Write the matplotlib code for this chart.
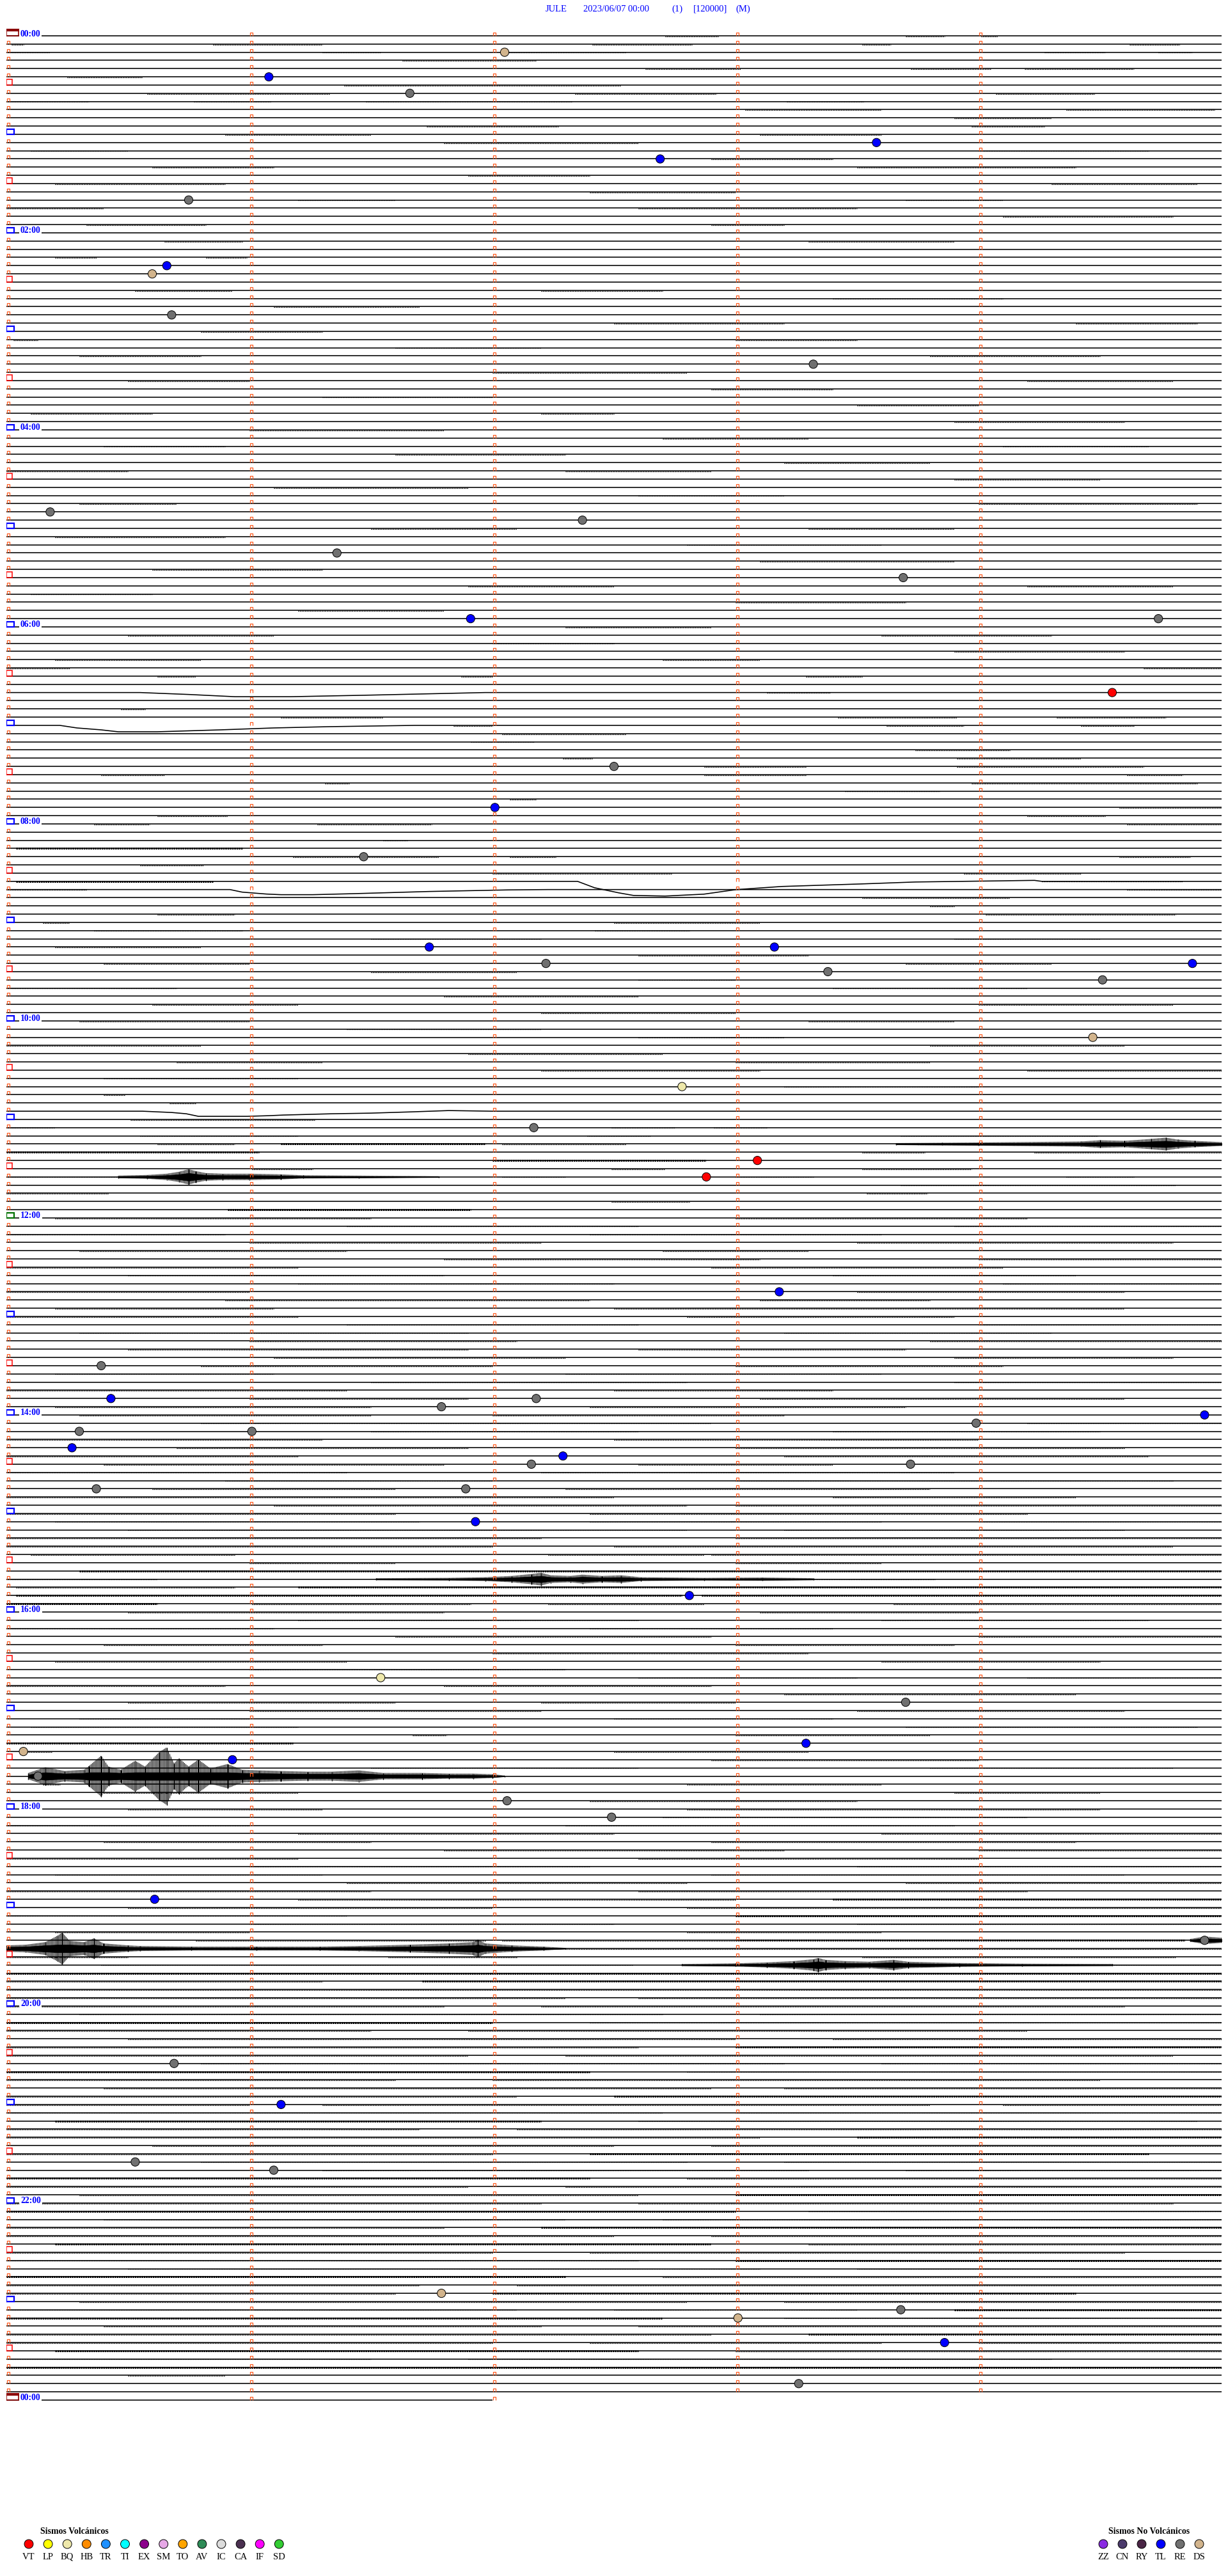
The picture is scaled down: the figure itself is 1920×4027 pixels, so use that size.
import matplotlib.pyplot as plt
from matplotlib.collections import LineCollection

plt.rcParams['font.family'] = ['Liberation Serif', 'DejaVu Serif']
plt.rcParams['hatch.linewidth'] = 0.8

W, H = 1920, 4027
X_LEFT, X_RIGHT = 10, 1910      # pixel span of one 5 minute line
Y_TOP, PX_LINE = 56, 12.833     # pixel row of 00:00, pixels between lines

# ---------------- data ----------------
station = "JULE"
date_label = "2023/06/07 00:00"
header_tags = ["(1)", "[120000]", "(M)"]
n_lines = 288                   # 24 h of 5 minute lines
minutes_per_line = 5
last_line_minutes = 2.0
hour_labels = ["00:00", "02:00", "04:00", "06:00", "08:00", "10:00", "12:00",
               "14:00", "16:00", "18:00", "20:00", "22:00", "00:00"]

volc_codes = ["VT", "LP", "BQ", "HB", "TR", "TI", "EX", "SM", "TO", "AV", "IC", "CA", "IF", "SD"]
volc_colors = ["#FF0000", "#FFFF00", "#EEE8AA", "#FF8C00", "#1E90FF", "#00FFFF", "#8B008B",
               "#E6A8E6", "#FFA500", "#2E8B57", "#DCDCDC", "#4A3050", "#FF00FF", "#33CC33"]
novolc_codes = ["ZZ", "CN", "RY", "TL", "RE", "DS"]
novolc_colors = ["#8A2BE2", "#4B3A6B", "#4A2545", "#0000FF", "#707070", "#D2B48C"]

# events: (line index, minute within line, type)
events = [
    (2, 2.05, "DS"), (5, 1.08, "TL"), (7, 1.66, "RE"), (13, 3.58, "TL"), (15, 2.69, "TL"),
    (20, 0.75, "RE"), (28, 0.66, "TL"), (29, 0.60, "DS"), (34, 0.68, "RE"), (40, 3.32, "RE"),
    (58, 0.18, "RE"), (59, 2.37, "RE"), (63, 1.36, "RE"), (66, 3.69, "RE"), (71, 1.91, "TL"),
    (71, 4.74, "RE"), (80, 4.55, "VT"), (89, 2.50, "RE"), (94, 2.01, "TL"), (100, 1.47, "RE"),
    (111, 1.74, "TL"), (111, 3.16, "TL"), (113, 2.22, "RE"), (113, 4.88, "TL"), (114, 3.38, "RE"),
    (115, 4.51, "RE"), (122, 4.47, "DS"), (128, 2.78, "BQ"), (133, 2.17, "RE"), (137, 3.09, "VT"),
    (139, 2.88, "VT"), (153, 3.18, "TL"), (162, 0.39, "RE"), (166, 0.43, "TL"), (166, 2.18, "RE"),
    (167, 1.79, "RE"), (168, 4.93, "TL"), (169, 3.99, "RE"), (170, 0.30, "RE"), (170, 1.01, "RE"),
    (172, 0.27, "TL"), (173, 2.29, "TL"), (174, 2.16, "RE"), (174, 3.72, "RE"), (177, 0.37, "RE"),
    (177, 1.89, "RE"), (181, 1.93, "TL"), (190, 2.81, "TL"), (200, 1.54, "BQ"), (203, 3.70, "RE"),
    (208, 3.29, "TL"), (209, 0.07, "DS"), (210, 0.93, "TL"), (212, 0.13, "RE"), (215, 2.06, "RE"),
    (217, 2.49, "RE"), (227, 0.61, "TL"), (232, 4.93, "RE"), (247, 0.69, "RE"), (252, 1.13, "TL"),
    (259, 0.53, "RE"), (260, 1.10, "RE"), (275, 1.79, "DS"), (277, 3.68, "RE"), (278, 3.01, "DS"),
    (281, 3.86, "TL"), (286, 3.26, "RE"),
]

# slow baseline drifts: (line, [(minute, offset px, +down)])
drifts = [
    (80, [(0.55, 0), (0.75, 3), (0.94, 6.5), (1.17, 6.5), (1.5, 4), (1.97, 0)]),
    (84, [(0.22, 0), (0.29, 4), (0.39, 7), (0.46, 10), (0.62, 10), (0.88, 7), (1.10, 4), (1.33, 2), (1.68, 0)]),
    (103, [(2.35, 0), (2.42, 10), (2.52, 18), (2.58, 22), (2.71, 23), (2.87, 20), (3.00, 13),
           (3.19, 8), (3.52, 4), (3.74, 1), (4.23, -1.5), (4.26, 0)]),
    (104, [(0.92, 0), (0.97, 4), (1.07, 7), (1.13, 8), (1.26, 8), (1.42, 6.5), (1.74, 3), (2.07, 0.5), (2.23, 0)]),
    (131, [(0.56, 0), (0.68, 2), (0.74, 4), (0.79, 8), (0.99, 8), (1.08, 7), (1.14, 6), (1.34, 4),
           (1.50, 3), (1.67, 1), (1.82, -1), (2.0, 0)]),
]

# seismic bursts: (line, [(minute, half amplitude px)])
bursts = [
    (135, [(3.66, 1.5), (3.85, 2), (4.0, 2.5), (4.42, 4), (4.50, 6), (4.60, 5), (4.71, 8), (4.77, 10),
           (4.82, 7), (4.89, 5), (5.0, 3)]),
    (139, [(0.46, 2), (0.58, 3), (0.66, 5), (0.71, 8), (0.75, 12), (0.78, 9), (0.82, 6), (0.89, 5),
           (1.0, 5), (1.13, 4), (1.22, 2.5), (1.45, 2), (1.78, 1)]),
    (188, [(1.52, 1.5), (1.82, 2), (1.97, 3), (2.08, 5), (2.16, 8), (2.20, 10), (2.24, 6), (2.32, 5),
           (2.37, 7), (2.45, 5), (2.53, 6), (2.61, 3), (2.87, 2), (3.11, 2.5), (3.32, 1.5)]),
    (212, [(0.09, 5), (0.16, 14), (0.24, 8), (0.32, 10), (0.34, 16), (0.39, 32), (0.42, 15), (0.47, 10),
           (0.53, 24), (0.57, 15), (0.63, 38), (0.66, 45), (0.69, 20), (0.71, 28), (0.75, 15), (0.79, 26),
           (0.84, 12), (0.91, 19), (0.97, 10), (1.04, 9), (1.13, 8), (1.24, 7), (1.34, 7), (1.45, 9),
           (1.55, 5), (1.71, 5), (1.82, 4), (1.92, 4), (2.0, 3), (2.05, 1)]),
    (232, [(4.87, 2), (4.93, 6), (5.0, 4)]),
    (233, [(0.0, 5), (0.08, 6), (0.16, 10), (0.21, 20), (0.23, 25), (0.26, 12), (0.32, 10), (0.36, 16),
           (0.40, 8), (0.50, 5), (0.55, 4), (0.76, 3), (1.03, 3), (1.29, 3), (1.45, 4), (1.66, 6),
           (1.82, 8), (1.92, 10), (1.94, 14), (1.97, 8), (2.08, 5), (2.21, 3), (2.30, 1)]),
    (235, [(2.78, 1.5), (3.0, 2.5), (3.13, 4), (3.24, 6), (3.32, 9), (3.34, 11), (3.37, 8), (3.45, 6),
           (3.55, 5), (3.65, 8), (3.71, 5), (3.92, 3), (4.18, 2), (4.55, 1.5)]),
]

# background noise: (line, start minute, end minute, level)
noise = [
    (0, 2.71, 2.93, 1), (0, 3.70, 3.86, 1), (0, 4.01, 4.08, 1),
    (1, 0.02, 0.07, 1), (1, 0.85, 1.30, 1), (1, 2.41, 2.82, 1), (1, 3.52, 3.64, 1), (1, 4.62, 4.83, 1),
    (2, 0.0, 0.18, 1), (2, 1.30, 1.54, 1), (2, 2.04, 2.55, 1), (2, 4.27, 4.52, 1), (2, 4.74, 4.88, 1),
    (3, 1.63, 2.18, 1), (4, 2.63, 3.02, 1), (4, 3.72, 4.05, 1), (4, 4.19, 4.64, 1), (5, 0.25, 0.56, 1),
    (6, 1.39, 2.53, 1), (7, 0.58, 1.33, 1), (7, 2.34, 2.92, 1), (7, 4.07, 4.48, 1),
    (8, 0.0, 0.34, 1), (8, 0.77, 1.09, 1), (8, 1.48, 2.33, 1), (8, 3.21, 3.53, 1),
    (9, 3.04, 3.60, 1), (9, 4.36, 4.97, 1), (10, 3.9, 4.3, 1), (11, 1.73, 2.27, 1), (11, 3.97, 4.27, 1),
    (12, 0.9, 1.5, 1), (12, 3.1, 3.6, 1), (13, 1.8, 2.6, 1), (14, 0.1, 0.5, 1), (14, 4.0, 4.7, 1),
    (15, 2.9, 3.4, 1), (16, 0.6, 1.1, 1), (16, 3.5, 4.4, 1), (17, 1.9, 2.4, 1), (18, 0.2, 0.9, 1),
    (18, 4.3, 4.9, 1), (19, 2.4, 3.0, 1), (20, 1.2, 1.6, 1), (20, 3.7, 4.1, 1), (21, 0.0, 0.4, 1),
    (21, 2.6, 3.5, 1), (22, 4.1, 4.8, 1), (23, 0.33, 0.82, 1), (23, 2.9, 3.2, 1), (25, 0.65, 0.97, 1),
    (25, 3.3, 3.9, 1), (27, 0.2, 0.37, 1), (27, 0.82, 0.99, 1), (31, 0.53, 0.93, 1), (31, 2.2, 2.7, 1),
    (32, 3.4, 4.1, 1), (33, 1.1, 1.7, 1), (35, 2.5, 3.2, 1), (35, 4.4, 4.9, 1), (36, 0.8, 1.3, 1),
    (37, 0.03, 0.13, 1), (37, 3.0, 3.5, 1), (38, 1.6, 2.2, 1), (39, 0.3, 0.8, 1), (39, 3.8, 4.5, 1),
    (41, 2.0, 2.8, 1), (42, 0.5, 1.0, 1), (42, 4.2, 4.8, 1), (43, 2.9, 3.4, 1), (44, 1.3, 2.0, 1),
    (45, 3.5, 4.0, 1), (46, 0.1, 0.6, 1), (46, 2.2, 2.5, 1), (47, 3.9, 4.6, 1), (48, 1.0, 1.8, 1),
    (49, 2.7, 3.3, 1), (50, 0.4, 0.9, 1), (50, 4.1, 4.7, 1), (51, 1.6, 2.3, 1), (52, 3.2, 3.8, 1),
    (53, 0.0, 0.5, 1), (53, 2.3, 2.9, 1), (54, 3.9, 4.5, 1), (55, 1.1, 1.9, 1), (56, 2.6, 3.2, 1),
    (57, 0.3, 0.7, 1), (57, 4.0, 4.9, 1), (60, 1.5, 2.1, 1), (60, 3.3, 3.9, 1), (61, 0.2, 0.9, 1),
    (62, 2.8, 3.6, 1), (64, 3.1, 3.9, 1), (65, 0.6, 1.3, 1), (67, 1.9, 2.5, 1), (67, 4.2, 4.8, 1),
    (68, 0.1, 0.6, 1), (69, 3.0, 3.7, 1), (70, 1.2, 1.8, 1), (72, 2.3, 2.9, 1), (73, 0.5, 1.1, 1),
    (73, 3.6, 4.3, 1), (74, 2.0, 2.5, 1), (75, 3.9, 4.6, 1), (76, 0.2, 0.8, 1), (76, 2.7, 3.1, 1),
    (77, 0.0, 0.26, 1), (77, 4.68, 5.0, 1), (78, 0.62, 0.78, 1), (78, 1.87, 2.0, 1), (78, 3.29, 3.52, 1),
    (80, 3.13, 3.39, 1), (82, 0.47, 0.57, 1), (83, 1.13, 1.55, 1), (83, 3.42, 3.91, 1), (83, 4.32, 4.77, 1),
    (84, 1.84, 2.0, 1), (84, 3.62, 3.94, 1), (84, 4.42, 4.64, 1), (85, 2.04, 2.55, 1), (86, 1.91, 2.17, 1),
    (87, 3.74, 4.13, 1), (88, 2.29, 2.41, 1), (88, 3.91, 4.42, 1), (89, 2.87, 3.29, 1), (89, 3.91, 4.68, 1),
    (90, 0.39, 0.65, 1), (90, 2.87, 3.29, 1), (90, 4.61, 4.84, 1), (91, 1.31, 1.41, 1), (91, 3.97, 4.90, 1),
    (92, 3.45, 3.84, 1), (93, 2.07, 2.18, 1), (94, 4.58, 5.0, 1), (95, 0.62, 0.91, 1), (95, 4.20, 4.52, 1),
    (96, 0.36, 0.59, 1), (96, 1.28, 1.75, 1), (96, 4.61, 5.0, 1), (98, 1.55, 1.65, 1), (99, 0.04, 0.97, 2),
    (100, 1.18, 1.78, 1), (100, 2.07, 2.26, 1), (100, 4.58, 4.87, 1), (101, 0.55, 0.81, 1),
    (102, 2.00, 2.74, 1), (102, 3.94, 4.42, 1), (103, 0.04, 0.85, 2), (103, 4.26, 4.84, 1),
    (104, 0.0, 0.33, 1), (104, 4.61, 5.0, 1), (105, 3.52, 4.13, 1), (106, 3.8, 3.9, 1),
    (107, 0.62, 0.94, 1), (107, 4.03, 4.81, 1), (108, 0.15, 0.26, 1), (108, 2.5, 3.1, 1),
    (109, 0.36, 0.97, 1), (109, 2.42, 2.81, 1), (110, 1.5, 2.2, 1), (110, 3.9, 4.5, 1), (111, 0.2, 0.8, 1),
    (112, 2.6, 3.3, 1), (113, 0.4, 1.0, 1), (113, 3.7, 4.3, 1), (114, 1.5, 2.1, 1), (115, 2.6, 3.0, 1),
    (116, 0.0, 0.7, 1), (116, 3.4, 4.2, 1), (117, 1.8, 2.6, 1), (118, 0.6, 1.2, 1), (118, 4.0, 4.8, 1),
    (119, 2.2, 3.0, 1), (120, 0.3, 1.0, 1), (120, 3.3, 3.9, 1), (121, 1.4, 2.2, 1), (122, 2.6, 3.2, 1),
    (123, 0.0, 0.8, 1), (123, 3.8, 4.6, 1), (124, 1.9, 2.7, 1), (125, 0.7, 1.3, 1), (125, 3.0, 3.8, 1),
    (126, 2.2, 3.1, 1), (126, 4.2, 5.0, 1), (127, 0.4, 1.2, 1), (128, 3.2, 4.0, 1),
    (129, 0.40, 0.49, 1), (130, 0.67, 0.78, 1), (132, 0.51, 1.27, 1), (133, 0.0, 0.20, 1),
    (133, 2.49, 2.75, 1), (133, 2.91, 3.13, 1), (134, 0.55, 1.20, 1), (134, 2.39, 2.65, 1),
    (134, 3.68, 4.49, 1), (135, 0.62, 0.94, 1), (135, 1.13, 1.97, 2), (135, 2.04, 2.55, 1),
    (135, 3.75, 4.0, 1), (136, 0.0, 1.04, 2), (136, 3.52, 3.78, 1), (136, 4.23, 5.0, 1),
    (137, 2.0, 2.88, 2), (138, 1.01, 1.26, 1), (138, 2.49, 2.71, 1), (138, 3.52, 3.97, 1),
    (139, 0.0, 0.46, 1), (139, 2.04, 2.30, 1), (139, 3.0, 3.32, 1), (139, 4.36, 4.64, 1), (140, 3.68, 4.81, 1),
    (141, 0.0, 0.42, 1), (141, 3.54, 3.79, 1), (142, 2.49, 2.81, 1), (143, 0.91, 1.91, 2),
    (144, 0.2, 1.5, 1), (144, 3.0, 4.2, 1), (145, 1.4, 2.6, 1), (145, 3.9, 5.0, 1), (146, 0.0, 0.9, 1),
    (146, 2.4, 3.6, 1), (147, 1.0, 2.2, 1), (147, 3.5, 4.8, 1), (148, 0.3, 1.4, 1), (148, 2.7, 3.3, 1),
    (149, 1.8, 3.1, 1), (149, 4.0, 5.0, 1), (150, 0.0, 1.2, 1), (150, 2.9, 4.1, 1), (151, 0.5, 1.8, 1),
    (151, 3.4, 4.4, 1), (152, 1.2, 2.5, 1), (152, 4.1, 5.0, 1), (153, 0.0, 1.0, 1), (153, 3.5, 4.6, 1),
    (154, 0.9, 2.4, 1), (154, 3.1, 3.8, 1), (155, 0.2, 1.1, 1), (155, 2.5, 4.6, 1), (156, 0.0, 1.2, 1),
    (156, 2.8, 3.9, 1), (157, 1.4, 2.6, 1), (157, 4.0, 5.0, 1), (158, 0.3, 1.9, 1), (158, 3.2, 4.3, 1),
    (159, 1.0, 2.1, 1), (159, 3.8, 5.0, 1), (160, 0.5, 1.9, 1), (160, 2.6, 3.7, 1), (161, 1.1, 2.3, 1),
    (161, 3.9, 4.8, 1), (162, 0.8, 2.0, 1), (162, 3.0, 4.1, 1), (163, 0.2, 1.1, 1), (163, 2.3, 3.6, 1),
    (164, 1.5, 2.8, 1), (164, 3.9, 5.0, 1), (165, 0.0, 1.4, 1), (165, 2.5, 3.4, 1), (166, 1.0, 1.9, 1),
    (166, 3.1, 4.6, 1), (167, 0.2, 1.5, 1), (167, 2.4, 3.7, 1), (168, 0.3, 1.5, 1), (168, 2.0, 3.2, 1),
    (169, 0.8, 2.9, 1), (169, 4.2, 5.0, 1), (170, 1.5, 2.6, 1), (170, 3.4, 4.5, 1), (171, 0.0, 1.3, 1),
    (171, 2.5, 4.0, 1), (172, 0.7, 1.9, 1), (172, 3.0, 4.6, 1), (173, 0.0, 1.2, 1), (173, 3.2, 4.7, 1),
    (174, 0.4, 1.8, 1), (174, 2.6, 3.4, 1), (175, 0.0, 1.4, 1), (175, 2.2, 3.9, 1), (176, 0.9, 2.0, 1),
    (176, 3.0, 4.8, 1), (177, 0.6, 1.6, 1), (177, 2.3, 3.8, 1), (178, 0.0, 2.5, 1), (178, 3.4, 4.4, 1),
    (179, 1.1, 2.8, 1), (179, 3.0, 5.0, 1), (180, 0.0, 1.6, 1), (180, 2.4, 4.2, 1), (181, 0.2, 1.7, 1),
    (181, 2.4, 3.6, 1), (181, 4.0, 5.0, 1), (182, 0.5, 2.8, 1), (182, 3.2, 4.6, 1), (183, 0.0, 2.2, 1),
    (183, 3.0, 5.0, 1), (184, 0.0, 2.0, 1), (184, 2.5, 4.8, 1),
    (185, 0.10, 0.94, 1), (185, 2.23, 2.87, 1), (185, 2.9, 5.0, 1), (186, 1.0, 1.6, 1), (186, 3.0, 3.6, 1),
    (187, 0.30, 5.0, 2), (188, 0.0, 0.62, 1), (188, 3.32, 3.82, 1), (189, 0.04, 0.94, 1), (189, 1.20, 5.0, 2),
    (190, 0.04, 2.78, 2), (190, 2.86, 5.0, 2), (191, 0.0, 0.62, 2), (191, 1.01, 1.91, 1),
    (191, 2.23, 2.87, 1), (191, 3.65, 5.0, 1),
    (192, 0.5, 1.8, 1), (192, 3.1, 4.0, 1), (193, 1.2, 2.6, 1), (193, 3.6, 4.7, 1), (194, 0.0, 1.1, 1),
    (194, 2.4, 3.4, 1), (195, 1.6, 2.9, 1), (195, 4.0, 5.0, 1), (196, 0.4, 1.3, 1), (196, 3.0, 3.9, 1),
    (197, 2.0, 3.3, 1), (198, 0.2, 1.4, 1), (198, 3.6, 4.5, 1), (199, 1.0, 2.3, 1), (200, 2.6, 3.5, 1),
    (200, 4.2, 5.0, 1), (201, 0.0, 0.9, 1), (201, 1.8, 2.9, 1), (202, 3.2, 4.4, 1), (203, 0.5, 1.6, 1),
    (203, 2.2, 3.0, 1), (204, 1.0, 2.2, 1), (204, 3.5, 4.6, 1), (205, 0.3, 1.0, 1), (205, 2.5, 3.4, 1),
    (206, 0.1, 1.2, 1), (206, 3.7, 4.9, 1),
    (207, 1.67, 1.81, 1), (207, 3.0, 3.8, 1), (208, 0.0, 1.18, 2), (209, 0.08, 0.19, 1), (209, 2.5, 3.3, 1),
    (210, 2.9, 4.0, 1), (211, 1.5, 2.6, 1), (211, 3.8, 4.8, 1), (213, 0.15, 0.22, 1), (213, 2.8, 3.6, 1),
    (214, 0.4, 1.2, 1), (214, 3.9, 4.5, 1), (215, 2.4, 3.5, 1), (216, 0.5, 1.3, 1), (216, 2.8, 4.5, 1),
    (217, 2.7, 4.2, 1), (218, 0.0, 1.0, 1), (218, 2.3, 3.9, 1), (219, 1.2, 2.5, 1), (219, 3.6, 5.0, 1),
    (220, 0.4, 1.5, 1), (220, 2.9, 4.4, 1), (221, 1.8, 3.2, 1), (221, 4.0, 5.0, 1), (222, 0.0, 1.2, 1),
    (222, 2.6, 4.0, 1), (223, 1.0, 2.4, 1), (223, 3.5, 5.0, 1), (224, 0.2, 1.3, 1), (224, 2.9, 4.6, 1),
    (225, 1.4, 2.8, 1), (225, 3.7, 5.0, 1), (226, 0.0, 1.5, 1), (226, 2.6, 4.2, 1), (227, 1.2, 3.0, 1),
    (227, 3.4, 5.0, 2), (228, 0.5, 2.0, 1), (228, 2.8, 5.0, 1), (229, 0.0, 1.4, 1), (229, 3.0, 5.0, 2),
    (230, 1.0, 2.5, 1), (230, 3.5, 5.0, 1), (231, 0.2, 1.0, 1), (231, 2.8, 3.6, 1),
    (232, 0.78, 1.97, 1), (232, 2.04, 3.0, 1), (232, 3.0, 4.85, 2), (233, 2.30, 5.0, 1),
    (234, 0.0, 0.50, 1), (234, 1.57, 2.10, 1), (234, 3.52, 4.81, 1), (235, 0.39, 2.58, 1),
    (235, 4.55, 5.0, 1), (236, 0.0, 5.0, 2), (237, 0.0, 1.30, 1), (237, 1.71, 5.0, 2), (238, 0.0, 5.0, 1),
    (239, 0.0, 2.3, 1), (239, 2.6, 5.0, 1), (240, 0.0, 1.8, 1), (240, 2.2, 4.6, 1), (241, 0.3, 2.7, 1),
    (241, 3.1, 5.0, 1), (242, 0.0, 2.0, 2), (242, 2.4, 5.0, 1), (243, 0.0, 1.5, 1), (243, 1.9, 4.2, 1),
    (244, 0.5, 3.0, 1), (244, 3.4, 5.0, 1), (245, 0.0, 2.6, 1), (245, 3.0, 5.0, 2), (246, 0.0, 1.9, 1),
    (246, 2.3, 4.8, 1), (247, 0.8, 3.2, 1), (247, 3.6, 5.0, 1), (248, 0.0, 2.4, 2), (248, 2.8, 5.0, 1),
    (249, 0.0, 1.6, 1), (249, 2.0, 4.5, 1), (250, 0.4, 2.9, 1), (250, 3.2, 5.0, 1), (251, 0.0, 2.1, 1),
    (251, 2.5, 5.0, 2), (252, 0.0, 1.0, 1), (252, 1.3, 3.8, 1), (252, 4.1, 5.0, 1), (253, 0.0, 2.7, 1),
    (253, 3.0, 5.0, 1), (254, 0.2, 2.2, 2), (254, 2.6, 4.9, 1), (255, 0.0, 1.7, 1), (255, 2.1, 5.0, 1),
    (256, 0.0, 3.1, 1), (256, 3.5, 5.0, 2), (257, 0.6, 2.5, 1), (257, 2.9, 5.0, 1), (258, 0.0, 2.0, 1),
    (258, 2.4, 4.7, 2), (259, 0.8, 2.8, 1), (259, 3.2, 5.0, 1), (260, 1.3, 3.3, 1), (260, 3.7, 5.0, 1),
    (261, 0.0, 2.4, 2), (261, 2.8, 5.0, 1), (262, 0.0, 1.9, 1), (262, 2.3, 5.0, 1), (263, 0.3, 2.6, 1),
    (263, 3.0, 5.0, 2), (264, 0.0, 2.2, 1), (264, 2.6, 4.8, 1), (265, 0.0, 3.0, 2), (265, 3.3, 5.0, 1),
    (266, 0.4, 2.3, 1), (266, 2.7, 5.0, 1), (267, 0.0, 1.8, 1), (267, 2.2, 5.0, 2), (268, 0.0, 2.5, 1),
    (268, 2.9, 5.0, 1), (269, 0.2, 2.9, 2), (269, 3.3, 5.0, 1), (270, 0.0, 2.0, 1), (270, 2.4, 4.6, 1),
    (271, 0.0, 2.6, 1), (271, 3.0, 5.0, 2), (272, 0.5, 3.1, 1), (272, 3.5, 5.0, 1), (273, 0.0, 2.3, 2),
    (273, 2.7, 5.0, 1), (274, 0.0, 1.7, 1), (274, 2.1, 5.0, 1), (275, 0.0, 1.6, 1), (275, 2.0, 4.4, 2),
    (276, 0.3, 2.8, 1), (276, 3.2, 5.0, 1), (277, 0.0, 2.1, 1), (277, 2.5, 3.5, 1), (277, 3.9, 5.0, 2),
    (278, 0.0, 2.7, 2), (278, 3.2, 5.0, 1), (279, 0.4, 2.2, 1), (279, 2.6, 5.0, 1), (280, 0.0, 2.9, 1),
    (280, 3.3, 5.0, 2), (281, 0.0, 2.0, 1), (281, 2.4, 3.6, 1), (281, 4.0, 5.0, 1), (282, 0.2, 2.6, 2),
    (282, 3.0, 5.0, 1), (283, 0.0, 1.5, 1), (283, 1.9, 4.3, 1), (284, 0.0, 5.0, 2), (285, 0.5, 0.9, 1),
]

# ---------------- figure ----------------
fig = plt.figure(figsize=(W / 100, H / 100), dpi=100)
fig.patch.set_facecolor("white")

bg = fig.add_axes([0, 0, 1, 1])
bg.set_xlim(0, W)
bg.set_ylim(H, 0)
bg.axis("off")

ax = fig.add_axes([X_LEFT / W, 0, (X_RIGHT - X_LEFT) / W, 1])
ax.set_xlim(0, minutes_per_line)
ax.set_ylim((H - Y_TOP) / PX_LINE, -Y_TOP / PX_LINE)
ax.axis("off")

px = 1 / PX_LINE                                  # one pixel, vertical, in line units
pxm = minutes_per_line / (X_RIGHT - X_LEFT)       # one pixel, horizontal, in minutes

# baselines
drift_rows = [d[0] for d in drifts]
flat = [i for i in range(n_lines) if i not in drift_rows]
ax.hlines(flat, 0, minutes_per_line, color="black", lw=1.15)
ax.hlines(n_lines, 0, last_line_minutes, color="black", lw=1.15)
for row, pts in drifts:
    xs = [0] + [p[0] for p in pts] + [minutes_per_line]
    ys = [row] + [row + p[1] * px for p in pts] + [row]
    ax.plot(xs, ys, color="black", lw=1.15)

# noise: light ticks hugging the trace, or a denser band
for row, x0, x1, lev in noise:
    if lev == 1:
        ax.hlines(row + 0.7 * px, x0, x1, color="black", lw=0.9, linestyles=(0, (1.2, 0.9)))
    else:
        ax.hlines(row, x0, x1, color="black", lw=2.2, linestyles=(0, (0.8, 0.35)))

# bursts: dense vertical strokes inside the envelope, solid core
for row, pts in bursts:
    xs = [p[0] for p in pts]
    amp = [p[1] * px for p in pts]
    core = [min(0.5 * a, 6 * px) for a in amp]
    ax.fill_between(xs, [row - a for a in amp], [row + a for a in amp],
                    facecolor="none", edgecolor="black", hatch="||||||||", lw=0, zorder=3)
    ax.fill_between(xs, [row - c for c in core], [row + c for c in core],
                    color="black", lw=0.5, zorder=3)
    ax.vlines(xs, [row - a for a in amp], [row + a for a in amp], color="black", lw=1.0, zorder=3)

# minute markers
segs = []
for i in range(n_lines + 1):
    mins = range(minutes_per_line) if i < n_lines else range(int(last_line_minutes) + 1)
    for k in mins:
        if k == 0 and i % 6 == 0:
            continue
        x0, x1 = k + 0.5 * pxm, k + 4.5 * pxm
        segs.append([(x0, i), (x0, i - 5 * px), (x1, i - 5 * px), (x1, i)])
ax.add_collection(LineCollection(segs, colors="#FF5A1F", linewidths=0.9, zorder=4))

# hour / half hour boxes
for i in range(0, n_lines + 1, 6):
    if i % 288 == 0:
        col, w, h, lw = "#8B0000", 19, 9, 1.2
    elif i == 144:
        col, w, h, lw = "#007000", 12, 8, 1.6
    elif i % 12 == 0:
        col, w, h, lw = "#0000FF", 12, 8, 1.6
    else:
        col, w, h, lw = "#FF0000", 9, 8.5, 1.1
    x0, x1 = 0, w * pxm
    ax.plot([x0, x0, x1, x1, x0], [i, i - h * px, i - h * px, i, i], color=col, lw=lw, zorder=5,
            solid_joinstyle="miter")
    if i % 288 == 0:
        ax.plot([x0, x1], [i - h * px, i - h * px], color=col, lw=3, zorder=5)

for j, lab in enumerate(hour_labels):
    ax.text(22 * pxm, j * 24 + 0.5 * px, lab, color="#0000FF", fontsize=9.8, fontweight="bold",
            ha="left", va="baseline", zorder=6,
            bbox=dict(facecolor="white", edgecolor="none", pad=1.2))

# events
code_color = dict(zip(volc_codes + novolc_codes, volc_colors + novolc_colors))
ax.scatter([e[1] for e in events], [e[0] for e in events], s=90,
           c=[code_color[e[2]] for e in events], edgecolors="black", linewidths=0.7, zorder=7)

# header
hdr = [(853, station), (912, date_label), (1050, header_tags[0]), (1084, header_tags[1]), (1150, header_tags[2])]
for xp, t in hdr:
    bg.text(xp, 14, t, color="#0000FF", fontsize=10.5, ha="left", va="center")

# legends
bg.text(63, 3957, "Sismos Volcánicos", fontsize=10, fontweight="bold", ha="left", va="center")
vx = [45 + 30.1 * k for k in range(len(volc_codes))]
bg.scatter(vx, [3977] * len(vx), s=100, c=volc_colors, edgecolors="black", linewidths=0.7)
for xv, code in zip(vx, volc_codes):
    bg.text(xv, 3997, code, fontsize=10.5, ha="center", va="center")

bg.text(1733, 3957, "Sismos No Volcánicos", fontsize=10, fontweight="bold", ha="left", va="center")
nx = [1725 + 30 * k for k in range(len(novolc_codes))]
bg.scatter(nx, [3977] * len(nx), s=100, c=novolc_colors, edgecolors="black", linewidths=0.7)
for xv, code in zip(nx, novolc_codes):
    bg.text(xv, 3997, code, fontsize=10.5, ha="center", va="center")

fig.savefig("out.png", dpi=100, facecolor="white")
